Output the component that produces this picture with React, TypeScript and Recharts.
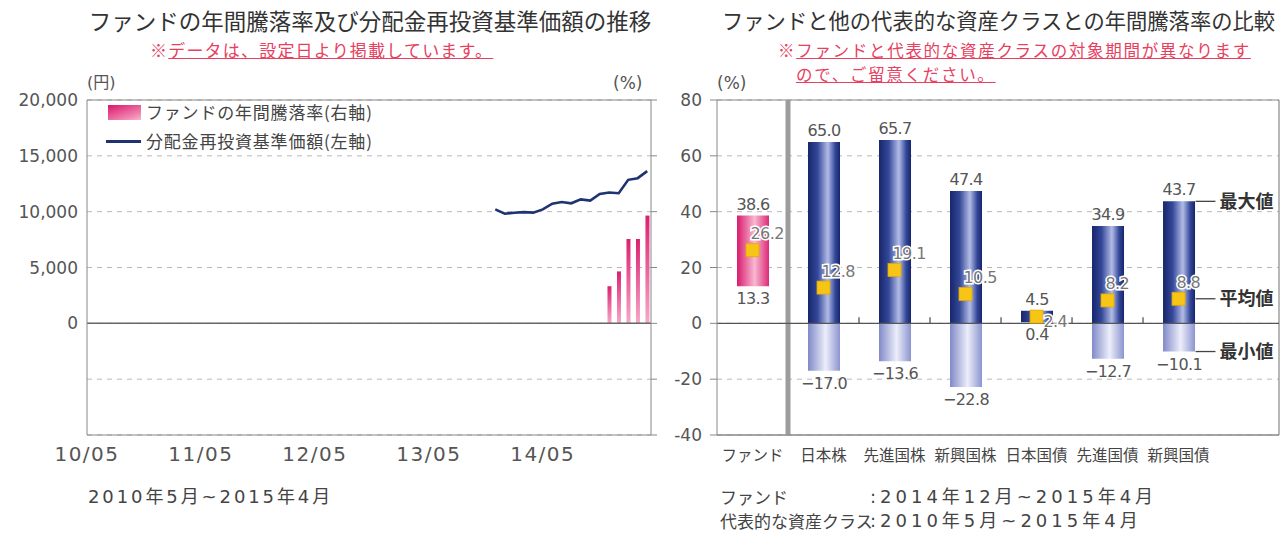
import React from 'react';
import {
  ComposedChart, Line, Bar, Scatter, XAxis, YAxis, CartesianGrid,
  ReferenceLine, LabelList, Cell,
} from 'recharts';

// ---------- Left chart data ----------
const navMonths = ['13/12', '14/01', '14/02', '14/03', '14/04', '14/05', '14/06', '14/07', '14/08', '14/09', '14/10', '14/11', '14/12', '15/01', '15/02', '15/03', '15/04'];
const navValues = [10200, 9820, 9910, 9960, 9910, 10200, 10720, 10860, 10750, 11100, 10990, 11590, 11710, 11650, 12850, 13000, 13630];
const returnMonths = ['14/12', '15/01', '15/02', '15/03', '15/04'];
const returnValues = [13.3, 18.6, 30.2, 30.2, 38.6];
const xTickLabels = ['10/05', '11/05', '12/05', '13/05', '14/05'];
const yenTicks = [-10000, -5000, 0, 5000, 10000, 15000, 20000];
const pctTicks = [-40, -20, 0, 20, 40, 60, 80];

// ---------- Right chart data ----------
const categories = ['ファンド', '日本株', '先進国株', '新興国株', '日本国債', '先進国債', '新興国債'];
const maxValues = [38.6, 65.0, 65.7, 47.4, 4.5, 34.9, 43.7];
const minValues = [13.3, -17.0, -13.6, -22.8, 0.4, -12.7, -10.1];
const avgValues = [26.2, 12.8, 19.1, 10.5, 2.4, 8.2, 8.8];
const annotations = ['最大値', '平均値', '最小値'];

const FONT_NUM = '"DejaVu Sans", "Noto Sans CJK JP", sans-serif';
const FONT_JP = '"Noto Sans CJK JP", sans-serif';

const monthIndex = (m: string) => {
  const [yy, mm] = m.split('/').map(Number);
  return (yy - 10) * 12 + (mm - 5);
};
const xTicks = xTickLabels.map(monthIndex);

const leftData = navMonths.map((m, k) => {
  const r = returnMonths.indexOf(m);
  return { x: monthIndex(m), nav: navValues[k], ret: r >= 0 ? returnValues[r] : null };
});

const rightData = categories.map((c, i) => ({
  i,
  name: c,
  upper: [Math.max(minValues[i], 0), maxValues[i]],
  lower: minValues[i] < 0 ? [minValues[i], 0] : null,
  avg: avgValues[i],
}));

const fmt = (v: number) => v.toFixed(1);

const UpperLabel = (props: any) => {
  const { x, y, width, height, value } = props;
  if (!Array.isArray(value)) return null;
  const top = Math.min(y, y + height);
  const bottom = Math.max(y, y + height);
  const cx = x + width / 2;
  return (
    <g>
      <text x={cx} y={top - 6} textAnchor="middle" fontFamily={FONT_NUM} fontSize={16} letterSpacing={-0.6} fill="#555">{fmt(value[1])}</text>
      {value[0] > 0 && (
        <text x={cx} y={bottom + 18} textAnchor="middle" fontFamily={FONT_NUM} fontSize={16} letterSpacing={-0.6} fill="#555">{fmt(value[0])}</text>
      )}
    </g>
  );
};

const LowerLabel = (props: any) => {
  const { x, y, width, height, value } = props;
  if (!Array.isArray(value)) return null;
  const bottom = Math.max(y, y + height);
  const cx = x + width / 2;
  return (
    <text x={cx} y={bottom + 18} textAnchor="middle" fontFamily={FONT_NUM} fontSize={16} letterSpacing={-0.6} fill="#555">{fmt(value[0]).replace('-', '−')}</text>
  );
};

const AvgMarker = (props: any) => {
  const { cx, cy, payload } = props;
  if (cx == null || cy == null) return null;
  const small = maxValues[payload.i] < 10;
  const s = 13;
  return (
    <g>
      <rect x={cx - s / 2} y={cy - s / 2} width={s} height={s} fill="#f6c515" stroke="#e4a800" strokeWidth={0.8} />
      <text
        x={small ? cx + 7 : cx - 2}
        y={small ? cy + 10 : cy - 11}
        fontFamily={FONT_NUM}
        fontSize={16}
        letterSpacing={-0.6}
        fill="#777"
        stroke="#fff"
        strokeWidth={3}
        paintOrder="stroke"
      >
        {fmt(payload.avg)}
      </text>
    </g>
  );
};

const abs = (l: number, t: number, extra: React.CSSProperties = {}): React.CSSProperties => ({
  position: 'absolute', left: l, top: t, whiteSpace: 'nowrap', ...extra,
});

export default function App() {
  const pink = '#e8405f';
  return (
    <div style={{ position: 'absolute', left: 0, top: 0, width: 1282, height: 535, background: '#fff', overflow: 'hidden' }}>
      {/* Titles */}
      <div style={abs(88, 5, { width: 564, textAlign: 'center', fontFamily: FONT_JP, fontSize: 22.5, fontWeight: 400, color: '#333', lineHeight: '30px' })}>
        ファンドの年間騰落率及び分配金再投資基準価額の推移
      </div>
      <div style={abs(150, 38, { fontFamily: FONT_JP, fontSize: 17, letterSpacing: 1.2, color: pink, lineHeight: '24px' })}>
        ※<span style={{ textDecoration: 'underline' }}>データは、設定日より掲載しています。</span>
      </div>
      <div style={abs(722, 5, { width: 553, textAlign: 'center', fontFamily: FONT_JP, fontSize: 21.3, fontWeight: 400, color: '#333', lineHeight: '30px' })}>
        ファンドと他の代表的な資産クラスとの年間騰落率の比較
      </div>
      <div style={abs(778, 40, { fontFamily: FONT_JP, fontSize: 16.5, letterSpacing: 1.7, color: pink, lineHeight: '20px' })}>
        ※<span style={{ textDecoration: 'underline' }}>ファンドと代表的な資産クラスの対象期間が異なります</span>
      </div>
      <div style={abs(796, 64, { fontFamily: FONT_JP, fontSize: 16.5, letterSpacing: 1.7, color: pink, lineHeight: '20px' })}>
        <span style={{ textDecoration: 'underline' }}>ので、ご留意ください。</span>
      </div>

      {/* Axis unit labels */}
      <div style={abs(87, 72, { fontFamily: FONT_NUM, fontSize: 16, color: '#555', lineHeight: '22px' })}>(円)</div>
      <div style={abs(613, 72, { fontFamily: FONT_NUM, fontSize: 17, color: '#555', lineHeight: '22px' })}>(%)</div>
      <div style={abs(717, 72, { fontFamily: FONT_NUM, fontSize: 17, color: '#555', lineHeight: '22px' })}>(%)</div>

      {/* Left chart */}
      <div style={abs(0, 0)}>
        <ComposedChart width={670} height={535} data={leftData} margin={{ top: 100, right: 11, bottom: 70, left: 27 }}>
          <defs>
            <linearGradient id="pinkBarL" x1="0" y1="0" x2="0" y2="1">
              <stop offset="0%" stopColor="#dc1f70" />
              <stop offset="100%" stopColor="#f6a9c8" />
            </linearGradient>
          </defs>
          <CartesianGrid vertical={false} yAxisId="yen" stroke="#b8b8b8" strokeDasharray="5 5" />
          <XAxis
            dataKey="x"
            type="number"
            domain={[0, 59.4]}
            ticks={xTicks}
            tickFormatter={(v: number) => xTickLabels[xTicks.indexOf(v)] ?? ''}
            tickLine={false}
            axisLine={{ stroke: '#888' }}
            tickMargin={6}
            height={30}
            tick={{ fontFamily: FONT_NUM, fontSize: 20, fill: '#555', letterSpacing: 1.5 }}
            allowDataOverflow
          />
          <YAxis
            yAxisId="yen"
            domain={[-10000, 20000]}
            ticks={yenTicks}
            tickFormatter={(v: number) => (v >= 0 ? v.toLocaleString('en-US') : '')}
            tickLine={false}
            tickMargin={3}
            width={60}
            axisLine={{ stroke: '#888' }}
            tick={{ fontFamily: FONT_NUM, fontSize: 17, fill: '#555' }}
            allowDataOverflow
          />
          <YAxis
            yAxisId="pct"
            orientation="right"
            domain={[-40, 80]}
            ticks={pctTicks}
            tickFormatter={() => ''}
            tickSize={6}
            width={8}
            axisLine={{ stroke: '#888' }}
            tickLine={{ stroke: '#888' }}
            allowDataOverflow
          />
          <ReferenceLine yAxisId="yen" y={20000} stroke="#888" strokeWidth={1.2} />
          <Bar yAxisId="pct" dataKey="ret" barSize={4} fill="url(#pinkBarL)" isAnimationActive={false} />
          <ReferenceLine yAxisId="yen" y={0} stroke="#666" strokeWidth={1.5} />
          <Line yAxisId="yen" dataKey="nav" type="linear" stroke="#1f3372" strokeWidth={2.6} dot={false} isAnimationActive={false} />
        </ComposedChart>
      </div>

      {/* Left legend */}
      <div style={abs(108, 105, { width: 33, height: 15, background: 'linear-gradient(160deg, #d9156c 0%, #f07fac 70%, #f7b6cf 100%)' })} />
      <div style={abs(146, 101, { fontFamily: FONT_JP, fontSize: 17, letterSpacing: 0.8, color: '#444', lineHeight: '22px' })}>ファンドの年間騰落率(右軸)</div>
      <div style={abs(106, 140, { width: 35, height: 3, background: '#1f3372' })} />
      <div style={abs(146, 130, { fontFamily: FONT_JP, fontSize: 17, letterSpacing: 0.8, color: '#444', lineHeight: '22px' })}>分配金再投資基準価額(左軸)</div>

      {/* Right chart */}
      <div style={abs(670, 0)}>
        <ComposedChart width={612} height={535} data={rightData} margin={{ top: 100, right: 3, bottom: 70, left: 7 }}>
          <defs>
            <linearGradient id="blueV" x1="0" y1="0" x2="1" y2="0">
              <stop offset="0%" stopColor="#17256a" />
              <stop offset="30%" stopColor="#34489a" />
              <stop offset="62%" stopColor="#b3bce6" />
              <stop offset="85%" stopColor="#33479a" />
              <stop offset="100%" stopColor="#17256a" />
            </linearGradient>
            <linearGradient id="lavV" x1="0" y1="0" x2="1" y2="0">
              <stop offset="0%" stopColor="#8089c8" />
              <stop offset="55%" stopColor="#eceefa" />
              <stop offset="100%" stopColor="#8c94cf" />
            </linearGradient>
            <linearGradient id="pinkV" x1="0" y1="0" x2="1" y2="0">
              <stop offset="0%" stopColor="#d81a6c" />
              <stop offset="55%" stopColor="#f8b8d2" />
              <stop offset="100%" stopColor="#dc2a76" />
            </linearGradient>
          </defs>
          <CartesianGrid vertical={false} xAxisId="main" yAxisId="v" stroke="#b8b8b8" strokeDasharray="5 5" />
          <XAxis
            xAxisId="main"
            dataKey="i"
            type="number"
            domain={[-0.5, 7.415]}
            ticks={[0, 1, 2, 3, 4, 5, 6]}
            tickFormatter={(v: number) => categories[v] ?? ''}
            tickLine={false}
            tickMargin={9}
            height={30}
            axisLine={{ stroke: '#888' }}
            tick={{ fontFamily: FONT_JP, fontSize: 15.5, fill: '#444' }}
            allowDataOverflow
          />
          <XAxis xAxisId="b" dataKey="i" type="number" domain={[-0.5, 7.415]} hide height={0} allowDataOverflow />
          <YAxis
            yAxisId="v"
            domain={[-40, 80]}
            ticks={pctTicks}
            tickSize={7}
            tickMargin={8}
            width={40}
            axisLine={{ stroke: '#888' }}
            tickLine={{ stroke: '#888' }}
            tick={{ fontFamily: FONT_NUM, fontSize: 17, fill: '#555' }}
            allowDataOverflow
          />
          <ReferenceLine xAxisId="main" yAxisId="v" y={80} stroke="#888" strokeWidth={1.2} />
          <ReferenceLine xAxisId="main" yAxisId="v" y={-40} stroke="#888" strokeWidth={1.2} />
          <ReferenceLine xAxisId="main" yAxisId="v" x={7.415} stroke="#888" strokeWidth={1.2} />
          <ReferenceLine xAxisId="main" yAxisId="v" x={0.5} stroke="#9c9c9c" strokeWidth={5} />
          <Bar xAxisId="b" yAxisId="v" dataKey="lower" barSize={32} fill="url(#lavV)" isAnimationActive={false}>
            <LabelList dataKey="lower" content={LowerLabel} />
          </Bar>
          <Bar xAxisId="main" yAxisId="v" dataKey="upper" barSize={32} isAnimationActive={false}>
            {rightData.map((d) => (
              <Cell key={d.name} fill={d.i === 0 ? 'url(#pinkV)' : 'url(#blueV)'} />
            ))}
            <LabelList dataKey="upper" content={UpperLabel} />
          </Bar>
          <ReferenceLine xAxisId="main" yAxisId="v" y={0} stroke="#555" strokeWidth={1.3} />
          {[1.5, 2.5, 3.5, 4.5, 5.5].map((bx) => (
            <ReferenceLine key={bx} xAxisId="main" yAxisId="v" segment={[{ x: bx, y: 0 }, { x: bx, y: 2.2 }]} stroke="#555" strokeWidth={1.3} />
          ))}
          <Scatter xAxisId="main" yAxisId="v" dataKey="avg" shape={AvgMarker} isAnimationActive={false} />
          {[maxValues[6], avgValues[6], minValues[6]].map((val, k) => (
            <ReferenceLine
              key={annotations[k]}
              xAxisId="main"
              yAxisId="v"
              segment={[{ x: 6.24, y: val }, { x: 6.52, y: val }]}
              stroke="#444"
              strokeWidth={1.3}
              label={{ value: annotations[k], position: 'right', offset: 4, fill: '#333', fontSize: 18, fontWeight: 700, fontFamily: FONT_JP }}
            />
          ))}
        </ComposedChart>
      </div>

      {/* Bottom notes */}
      <div style={abs(88, 485, { fontFamily: FONT_NUM, fontSize: 18, letterSpacing: 2.9, color: '#444', lineHeight: '24px' })}>2010年5月~2015年4月</div>
      <div style={abs(720, 485, { fontFamily: FONT_JP, fontSize: 17, color: '#444', lineHeight: '24px' })}>ファンド</div>
      <div style={abs(870, 485, { fontFamily: FONT_NUM, fontSize: 18, letterSpacing: 4, color: '#444', lineHeight: '24px' })}>:2014年12月~2015年4月</div>
      <div style={abs(720, 509, { fontFamily: FONT_JP, fontSize: 17, color: '#444', lineHeight: '24px' })}>代表的な資産クラス</div>
      <div style={abs(870, 509, { fontFamily: FONT_NUM, fontSize: 18, letterSpacing: 4, color: '#444', lineHeight: '24px' })}>:2010年5月~2015年4月</div>
    </div>
  );
}
